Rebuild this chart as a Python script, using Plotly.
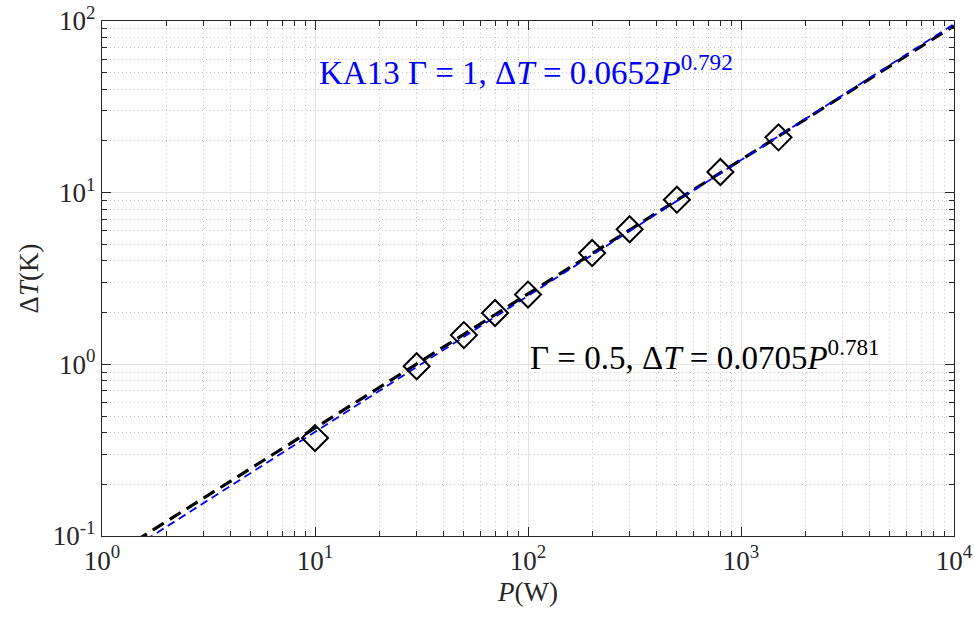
import numpy as np
import plotly.graph_objects as go

# Measured temperature rise vs. heating power (Gamma = 0.5)
power_w = [10, 30, 50, 70, 100, 200, 300, 500, 800, 1500]
delta_t_k = [0.372, 0.975, 1.48, 1.99, 2.55, 4.45, 6.12, 9.1, 13.2, 21.0]

# Power-law fits: dT = a * P**b
fit_gamma05 = {"a": 0.0705, "b": 0.781}
fit_ka13 = {"a": 0.0652, "b": 0.792}

# Decade ticks
x_decades = [0, 1, 2, 3, 4]
y_decades = [-1, 0, 1, 2]

p_line = np.logspace(0, 4, 200)

font_family = "Liberation Serif, serif"
axis_color = "#262626"
SP = "\u2005"  # math-style spacing around relations


def decade_labels(exps):
    return [f"10<sup>{e}</sup>" for e in exps]


def minor_vals(exps):
    return [m * 10.0 ** e for e in exps[:-1] for m in range(2, 10)]


fig = go.Figure()

fig.add_trace(go.Scatter(
    x=p_line, y=fit_gamma05["a"] * p_line ** fit_gamma05["b"],
    mode="lines", line=dict(color="black", width=3.2, dash="13px,7px"),
    showlegend=False,
))
fig.add_trace(go.Scatter(
    x=p_line, y=fit_ka13["a"] * p_line ** fit_ka13["b"],
    mode="lines", line=dict(color="#0000ff", width=1.8, dash="8px,5px"),
    showlegend=False,
))
fig.add_trace(go.Scatter(
    x=power_w, y=delta_t_k, mode="markers",
    marker=dict(symbol="diamond-open", size=20, color="black",
                line=dict(color="black", width=2)),
    showlegend=False,
))

axis_common = dict(
    type="log", automargin=False,
    showline=True, linecolor=axis_color, linewidth=1.2, mirror="allticks",
    ticks="inside", ticklen=9, tickwidth=1, tickcolor=axis_color,
    showgrid=True, gridcolor="#e2e2e2", gridwidth=1,
    tickfont=dict(family=font_family, size=27, color=axis_color),
    zeroline=False,
)

minor_common = dict(ticks="inside", ticklen=5, tickcolor=axis_color,
                    showgrid=True, gridcolor="#c4c4c4", griddash="1px,3px",
                    gridwidth=1)

fig.update_xaxes(
    range=[0, 4],
    tickmode="array",
    tickvals=[10.0 ** e for e in x_decades],
    ticktext=decade_labels(x_decades),
    minor=dict(tickmode="array", tickvals=minor_vals(x_decades), **minor_common),
    title=dict(text="<i>P</i>(W)", font=dict(family=font_family, size=27, color=axis_color),
               standoff=7),
    **axis_common,
)
fig.update_yaxes(
    range=[-1, 2],
    tickmode="array",
    tickvals=[10.0 ** e for e in y_decades],
    ticktext=decade_labels(y_decades),
    minor=dict(tickmode="array", tickvals=minor_vals(y_decades), **minor_common),
    title=dict(text="Δ<i>T</i>(K)", font=dict(family=font_family, size=27, color=axis_color),
               standoff=6),
    **axis_common,
)

fig.add_annotation(
    x=np.log10(10.2), y=np.log10(52), xref="x", yref="y",
    text=(f"KA13 Γ{SP}={SP}1,{SP}Δ<i>T</i>{SP}={SP}0.0652<i>P</i>"
          "<sup>0.792</sup>"),
    showarrow=False, xanchor="left", yanchor="middle",
    font=dict(family=font_family, size=33, color="#0000ff"),
)
fig.add_annotation(
    x=np.log10(100), y=np.log10(1.13), xref="x", yref="y",
    text=(f"Γ{SP}={SP}0.5,{SP}Δ<i>T</i>{SP}={SP}0.0705<i>P</i>"
          "<sup>0.781</sup>"),
    showarrow=False, xanchor="left", yanchor="middle",
    font=dict(family=font_family, size=33, color="black"),
)

fig.update_layout(
    width=974, height=619,
    margin=dict(l=102, r=20, t=21, b=83),
    paper_bgcolor="white", plot_bgcolor="white",
    showlegend=False,
)

fig.write_html("out.html")
